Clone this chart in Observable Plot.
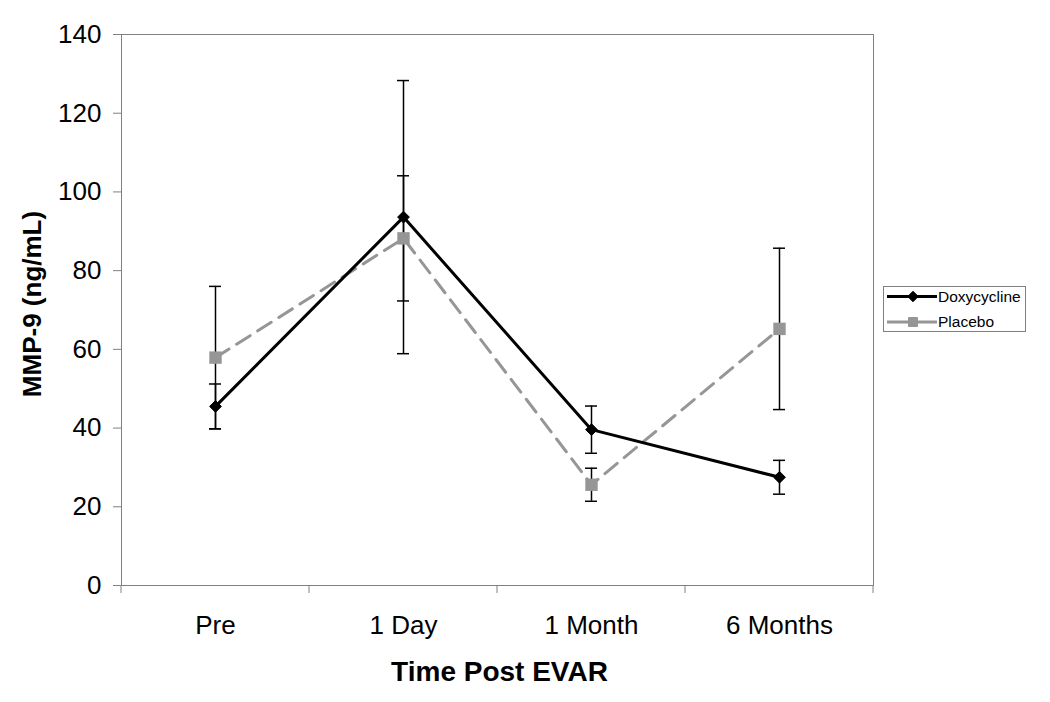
<!DOCTYPE html>
<html>
<head>
<meta charset="utf-8">
<script src="https://cdn.jsdelivr.net/npm/d3@7"></script>
<script src="https://cdn.jsdelivr.net/npm/@observablehq/plot@0.6"></script>
<style>
  body { margin: 0; background: #fff; font-family: "Liberation Sans", Arial, sans-serif; }
  #wrap { position: relative; width: 1050px; height: 702px; }
  #legend { position: absolute; left: 883px; top: 286px; width: 143px; height: 46px;
            border: 1px solid #808080; background: #fff; box-sizing: border-box; }
  #legend svg { display: block; }
</style>
</head>
<body>
<div id="wrap"><div id="legend"></div></div>
<script>
// ---- data ----
const categories = ["Pre", "1 Day", "1 Month", "6 Months"];
const seriesNames = ["Doxycycline", "Placebo"];
const doxyMean = [45.5, 93.6, 39.6, 27.5];
const doxyErr = [5.7, 34.7, 6.0, 4.3];
const placeboMean = [57.9, 88.2, 25.6, 65.2];
const placeboErr = [18.1, 15.9, 4.2, 20.5];
const yTicks = [0, 20, 40, 60, 80, 100, 120, 140];
const xTitle = "Time Post EVAR";
const yTitle = "MMP-9 (ng/mL)";

const doxy = categories.map((c, i) => ({time: c, series: seriesNames[0], mean: doxyMean[i], lo: doxyMean[i] - doxyErr[i], hi: doxyMean[i] + doxyErr[i]}));
const placebo = categories.map((c, i) => ({time: c, series: seriesNames[1], mean: placeboMean[i], lo: placeboMean[i] - placeboErr[i], hi: placeboMean[i] + placeboErr[i]}));
const rows = doxy.concat(placebo);

const grey = "#969696";
const font = "Liberation Sans, Arial, sans-serif";

const plot = Plot.plot({
  width: 1050,
  height: 702,
  marginLeft: 121,
  marginRight: 177,
  marginTop: 34,
  marginBottom: 117,
  style: {fontFamily: font, background: "#fff", color: "#000"},
  x: {type: "band", domain: categories, padding: 0},
  y: {domain: [0, 140]},
  marks: [
    Plot.frame({stroke: "#808080"}),
    Plot.axisY({ticks: yTicks, tickSize: 8, tickPadding: 12, fontSize: 26, stroke: "#808080", label: null, tickFormat: d => String(d)}),
    Plot.axisX({tickSize: 0, tickPadding: 30, fontSize: 26, label: null}),
    Plot.text([yTitle], {text: d => d, frameAnchor: "left", textAnchor: "middle", lineAnchor: "middle", dx: -89, dy: -6, rotate: -90, fontSize: 26, fontWeight: "bold"}),
    Plot.text([xTitle], {text: d => d, frameAnchor: "bottom", textAnchor: "middle", dy: 95, dx: 2, fontSize: 28, fontWeight: "bold"}),
    Plot.ruleX(rows, {x: "time", y1: "lo", y2: "hi", stroke: "black", strokeWidth: 1.5}),
    Plot.tickY(rows, {x: "time", y: "lo", insetLeft: 88, insetRight: 88, stroke: "black", strokeWidth: 1.5}),
    Plot.tickY(rows, {x: "time", y: "hi", insetLeft: 88, insetRight: 88, stroke: "black", strokeWidth: 1.5}),
    Plot.line(placebo, {x: "time", y: "mean", stroke: grey, strokeWidth: 3, strokeDasharray: "16,9"}),
    Plot.line(doxy, {x: "time", y: "mean", stroke: "black", strokeWidth: 3}),
    Plot.dot(placebo, {x: "time", y: "mean", symbol: "square", r: 7, fill: grey}),
    Plot.dot(doxy, {x: "time", y: "mean", symbol: "diamond2", r: 5.3, fill: "black", stroke: "black", strokeWidth: 1})
  ]
});

// category boundary ticks below the frame, from the library's own scales
const xs = plot.scale("x");
const ys = plot.scale("y");
const edges = categories.map(c => xs.apply(c)).concat([xs.apply(categories[categories.length - 1]) + xs.bandwidth]);
const y0 = ys.apply(0);
d3.select(plot).append("g")
  .selectAll("line").data(edges).join("line")
  .attr("x1", d => d).attr("x2", d => d)
  .attr("y1", y0).attr("y2", y0 + 8)
  .attr("stroke", "#808080");

document.getElementById("wrap").prepend(plot);

// legend
const lg = d3.select("#legend").append("svg").attr("width", 141).attr("height", 44);
const items = [
  {name: seriesNames[0], color: "black", sym: d3.symbolDiamond2, size: 70},
  {name: seriesNames[1], color: grey, sym: d3.symbolSquare, size: 80}
];
items.forEach((it, i) => {
  const cy = 9.5 + i * 25.5;
  lg.append("line").attr("x1", 3).attr("x2", 53).attr("y1", cy).attr("y2", cy)
    .attr("stroke", it.color).attr("stroke-width", 3);
  lg.append("path").attr("d", d3.symbol(it.sym, it.size)())
    .attr("transform", `translate(29,${cy})`).attr("fill", it.color).attr("stroke", it.color);
  lg.append("text").attr("x", 54).attr("y", cy).attr("dy", "0.35em")
    .attr("font-family", font).attr("font-size", 15.5).attr("fill", "#000").text(it.name);
});
</script>
</body>
</html>
